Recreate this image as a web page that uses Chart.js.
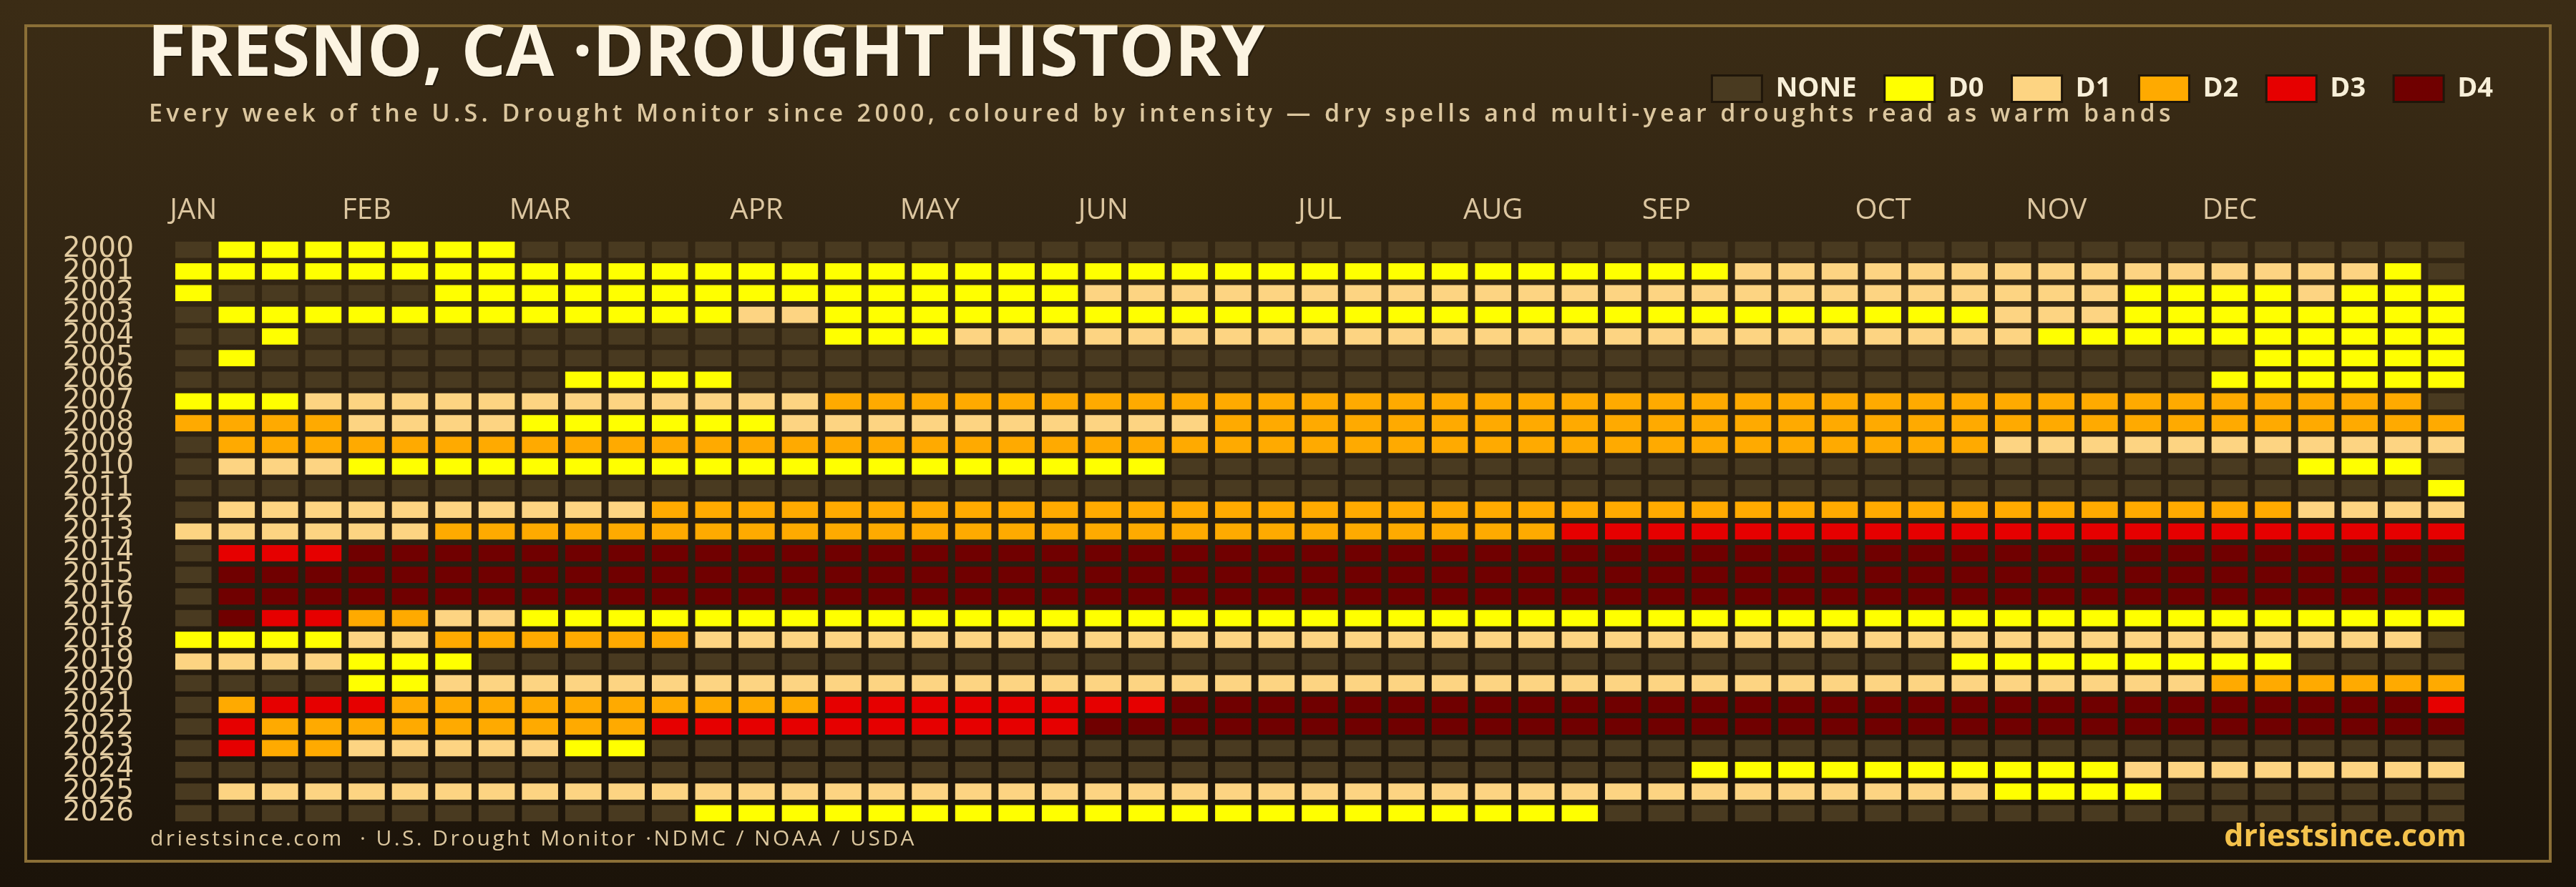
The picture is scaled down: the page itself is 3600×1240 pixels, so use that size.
<!DOCTYPE html>
<html>
<head>
<meta charset="utf-8">
<title>Fresno, CA drought history</title>
<script src="https://cdn.jsdelivr.net/npm/chart.js@4.4.1/dist/chart.umd.min.js"></script>
<style>
  html, body { margin: 0; padding: 0; }
  body {
    width: 3600px;
    height: 1240px;
    position: relative;
    overflow: hidden;
    background: linear-gradient(180deg, #3b2c15 0%, #2b2011 55%, #1b1309 100%);
    font-family: "Open Sans", sans-serif;
  }
  .frame {
    position: absolute;
    left: 34px; top: 34px;
    width: 3532px; height: 1172px;
    box-sizing: border-box;
    border: 4px solid #8b6f37;
  }
  .chart-wrap { position: absolute; left: 0; top: 0; width: 3600px; height: 1240px; }
  .title {
    position: absolute; left: 206px; top: 19px;
    font-size: 98px; font-weight: 700; line-height: 1;
    color: #fcf4e2; white-space: nowrap;
    text-shadow: 2px 2px 0 rgba(0, 0, 0, 0.3);
  }
  .subtitle {
    position: absolute; left: 208px; top: 140px;
    font-size: 34px; font-weight: 600; line-height: 1;
    letter-spacing: 5.35px;
    color: #dcc79f; white-space: nowrap;
  }
  .source {
    position: absolute; left: 210px; top: 1156px;
    font-size: 30px; line-height: 1;
    letter-spacing: 3.4px;
    color: #dcc79f; white-space: nowrap;
  }
  .brand {
    position: absolute; right: 153px; top: 1145px;
    font-size: 43px; font-weight: 700; line-height: 1;
    color: #f4c24c; white-space: nowrap;
  }
</style>
</head>
<body>
<div class="frame"></div>
<div class="chart-wrap"><canvas id="droughtChart"></canvas></div>
<div class="title">FRESNO, CA ·DROUGHT HISTORY</div>
<div class="subtitle">Every week of the U.S. Drought Monitor since 2000, coloured by intensity — dry spells and multi-year droughts read as warm bands</div>
<div class="source">driestsince.com&nbsp; · U.S. Drought Monitor ·NDMC / NOAA / USDA</div>
<div class="brand">driestsince.com</div>

<script>
const years = ["2000", "2001", "2002", "2003", "2004", "2005", "2006", "2007", "2008",
    "2009", "2010", "2011", "2012", "2013", "2014", "2015", "2016", "2017", "2018",
    "2019", "2020", "2021", "2022", "2023", "2024", "2025", "2026"];

const weekCount = 53;

const levelNames = ["NONE", "D0", "D1", "D2", "D3", "D4"];
const levelColors = ["#493a20", "#ffff00", "#fdd482", "#ffaa00", "#e60000", "#700000"];

const monthNames = ["JAN", "FEB", "MAR", "APR", "MAY", "JUN", "JUL", "AUG", "SEP", "OCT", "NOV", "DEC"];
const monthStartWeeks = [0, 4, 8, 13, 17, 21, 26, 30, 34, 39, 43, 47];

// one string per year, one character per week: "." = none, "0".."4" = D0..D4
// (spaces only split the weeks into blocks of ten)
const weeklyLevels = [
    ".0000000.. .......... .......... .......... .......... ...", // 2000
    "0000000000 0000000000 0000000000 0000001111 1111111111 10.", // 2001
    "0.....0000 0000000000 0111111111 1111111111 1111100001 000", // 2002
    ".000000000 0001100000 0000000000 0000000000 0011100000 000", // 2003
    "..0....... .....00011 1111111111 1111111111 1110000000 000", // 2004
    ".0........ .......... .......... .......... ........00 000", // 2005
    ".........0 000....... .......... .......... .......000 000", // 2006
    "0001111111 1111122222 2222222222 2222222222 2222222222 22.", // 2007
    "2222111100 0000111111 1111222222 2222222222 2222222222 222", // 2008
    ".222222222 2222222222 2222222222 2222222222 2211111111 111", // 2009
    ".111000000 0000000000 000....... .......... .........0 00.", // 2010
    ".......... .......... .......... .......... .......... ..0", // 2011
    ".111111111 1222222222 2222222222 2222222222 2222222221 111", // 2012
    "1111112222 2222222222 2222222222 2233333333 3333333333 333", // 2013
    ".333444444 4444444444 4444444444 4444444444 4444444444 444", // 2014
    ".444444444 4444444444 4444444444 4444444444 4444444444 444", // 2015
    ".444444444 4444444444 4444444444 4444444444 4444444444 444", // 2016
    ".433221100 0000000000 0000000000 0000000000 0000000000 000", // 2017
    "0000112222 2211111111 1111111111 1111111111 1111111111 11.", // 2018
    "1111000... .......... .......... .......... .00000000. ...", // 2019
    "....001111 1111111111 1111111111 1111111111 1111111222 222", // 2020
    ".233322222 2222233333 3334444444 4444444444 4444444444 443", // 2021
    ".322222222 2333333333 3444444444 4444444444 4444444444 444", // 2022
    ".322111110 0......... .......... .......... .......... ...", // 2023
    ".......... .......... .......... .....00000 0000011111 111", // 2024
    ".111111111 1111111111 1111111111 1111111111 110000.... ...", // 2025
    ".......... ..00000000 0000000000 000....... .......... ..."  // 2026
];

// level index per year/week: 0 = none, 1..5 = D0..D4
const levels = weeklyLevels.map(row =>
    row.replace(/ /g, "").split("").map(c => (c === "." ? 0 : Number(c) + 1))
);

const cellInset = 0.082;

// one dataset per week column, one floating bar per year
const datasets = [];
for (let w = 0; w < weekCount; w++) {
    datasets.push({
        label: "Week " + (w + 1),
        data: years.map(() => [w + cellInset, w + 1 - cellInset]),
        backgroundColor: levels.map(row => levelColors[row[w]]),
        borderWidth: 0,
        barPercentage: 0.75,
        categoryPercentage: 1,
        grouped: false
    });
}

const ctx = document.getElementById("droughtChart");

new Chart(ctx, {
    type: "bar",
    data: { labels: years, datasets: datasets },
    options: {
        indexAxis: "y",
        responsive: true,
        maintainAspectRatio: false,
        devicePixelRatio: 1,
        animation: false,
        layout: { padding: { top: 66, left: 40, right: 77, bottom: 88 } },
        plugins: {
            tooltip: { enabled: false },
            legend: {
                position: "top",
                align: "end",
                onClick: null,
                labels: {
                    boxWidth: 70,
                    boxHeight: 37,
                    padding: 39,
                    color: "#f8efd8",
                    font: { family: "Open Sans", size: 38, weight: "bold" },
                    generateLabels: () => levelNames.map((name, i) => ({
                        text: name,
                        fillStyle: levelColors[i],
                        strokeStyle: "#1f160a",
                        lineWidth: 3,
                        fontColor: "#f8efd8",
                        hidden: false
                    }))
                }
            }
        },
        scales: {
            x: {
                type: "linear",
                position: "top",
                min: 0,
                max: weekCount,
                grid: { display: false },
                border: { display: false },
                afterFit: scale => { scale.height = 181; },
                afterBuildTicks: scale => {
                    scale.ticks = monthStartWeeks.map(w => ({ value: w + 0.5 }));
                },
                ticks: {
                    autoSkip: false,
                    maxRotation: 0,
                    padding: 7,
                    color: "#dcc6a0",
                    font: { family: "Open Sans", size: 40 },
                    callback: (value, index) => monthNames[index]
                }
            },
            y: {
                type: "category",
                grid: { display: false },
                border: { display: false },
                afterFit: scale => { scale.width = 200; },
                ticks: {
                    autoSkip: false,
                    padding: 45,
                    color: "#e2cba0",
                    font: { family: "DejaVu Sans", size: 39 }
                }
            },
            // empty right-hand axis: keeps the grid clear of the legend's right edge
            pad: {
                type: "linear",
                position: "right",
                grid: { display: false },
                border: { display: false },
                ticks: { display: false },
                afterFit: scale => { scale.width = 74; }
            }
        }
    }
});
</script>
</body>
</html>
